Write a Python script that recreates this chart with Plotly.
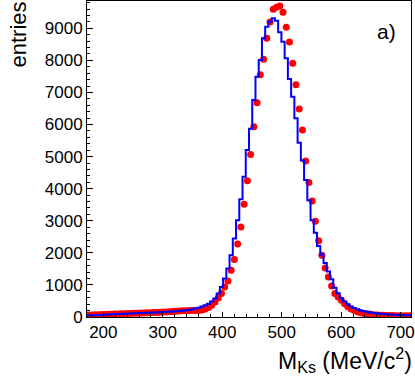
import numpy as np
import plotly.graph_objects as go

# binning: 100 bins from 172.5 to 717.5 MeV
bin_lo = 172.5
bin_width = 5.45

# blue histogram (entries per bin)
hist_entries = [
    52, 55, 58, 62, 66, 72, 76, 80, 86, 90,
    95, 100, 104, 110, 114, 118, 122, 127, 131, 135,
    140, 144, 148, 152, 158, 163, 170, 178, 186, 196,
    208, 222, 240, 262, 290, 325, 365, 415, 480, 574,
    730, 936, 1198, 1510, 1926, 2447, 3018, 3673, 4370, 5203,
    5870, 6764, 7490, 8012, 8689, 9051, 9207, 9313, 9238, 8876,
    8583, 8065, 7419, 6866, 6192, 5430, 4880, 4267, 3642, 3018,
    2630, 2210, 1950, 1680, 1420, 1180, 910, 740, 585, 480,
    400, 330, 280, 240, 205, 180, 160, 142, 128, 115,
    105, 96, 88, 80, 74, 68, 64, 60, 56, 53,
]

# red points (entries per bin)
point_entries = [
    62, 65, 70, 72, 76, 80, 84, 88, 92, 96,
    100, 104, 108, 112, 116, 120, 124, 128, 132, 136,
    140, 144, 148, 153, 158, 164, 170, 176, 184, 192,
    198, 200, 205, 205, 200, 215, 250, 295, 365, 468,
    590, 730, 936, 1124, 1458, 1791, 2278, 2809, 3517, 4245,
    5068, 5930, 6680, 7553, 8034, 8689, 9198, 9594, 9657, 9697,
    9500, 9032, 8574, 7909, 7241, 6483, 5827, 4864, 4194, 3615,
    2982, 2378, 1926, 1529, 1248, 968, 730, 624, 520, 410,
    320, 250, 200, 160, 130, 110, 95, 82, 72, 64,
    58, 53, 49, 46, 44, 42, 40, 39, 38, 37,
]

n_bins = len(hist_entries)
edges = bin_lo + bin_width * np.arange(n_bins + 1)
centers = 0.5 * (edges[:-1] + edges[1:])

font = "Liberation Sans, Arial, Helvetica, sans-serif"

fig = go.Figure()

fig.add_trace(go.Scatter(
    x=centers, y=point_entries, mode='markers',
    marker=dict(color='#ff0000', size=7, line=dict(width=0)),
    showlegend=False, hoverinfo='skip',
))

fig.add_trace(go.Scatter(
    x=edges, y=hist_entries + [hist_entries[-1]], mode='lines',
    line=dict(color='#0000ff', width=2, shape='hv'),
    showlegend=False, hoverinfo='skip',
))

fig.update_layout(
    width=415, height=378,
    margin=dict(l=87, r=4, t=1, b=61),
    paper_bgcolor='white', plot_bgcolor='white',
    font=dict(family=font, size=17, color='black'),
    annotations=[
        dict(text='entries', xref='paper', yref='paper', x=0, y=1,
             xshift=-84, yshift=1, xanchor='left', yanchor='top',
             textangle=-90, showarrow=False, font=dict(size=22)),
        dict(text='M<sub>Ks</sub> (MeV/c<sup>2</sup>)', xref='paper', yref='paper',
             x=1, y=0, xshift=3, yshift=-61, xanchor='right', yanchor='bottom',
             showarrow=False, font=dict(size=23)),
        dict(text='a)', xref='paper', yref='paper', x=1, y=1,
             xshift=-13, yshift=-30, xanchor='right', yanchor='middle',
             showarrow=False, font=dict(size=21)),
    ],
)

fig.update_xaxes(
    range=[bin_lo, bin_lo + bin_width * n_bins],
    dtick=100, tick0=0, ticks='inside', ticklen=5, tickcolor='black',
    minor=dict(dtick=20, tick0=0, ticks='inside', ticklen=3, tickcolor='black'),
    showline=True, linecolor='black', linewidth=1, mirror=True,
    showgrid=False, zeroline=False, tickfont=dict(size=17),
)
fig.update_yaxes(
    range=[0, 9850], tickformat='d',
    dtick=1000, tick0=0, ticks='inside', ticklen=6, tickcolor='black',
    minor=dict(dtick=200, tick0=0, ticks='inside', ticklen=3, tickcolor='black'),
    showline=True, linecolor='black', linewidth=1, mirror=True,
    showgrid=False, zeroline=False, tickfont=dict(size=17),
)

fig.write_html("out.html", config={'displayModeBar': False},
               post_script="document.body.style.margin='0';")
